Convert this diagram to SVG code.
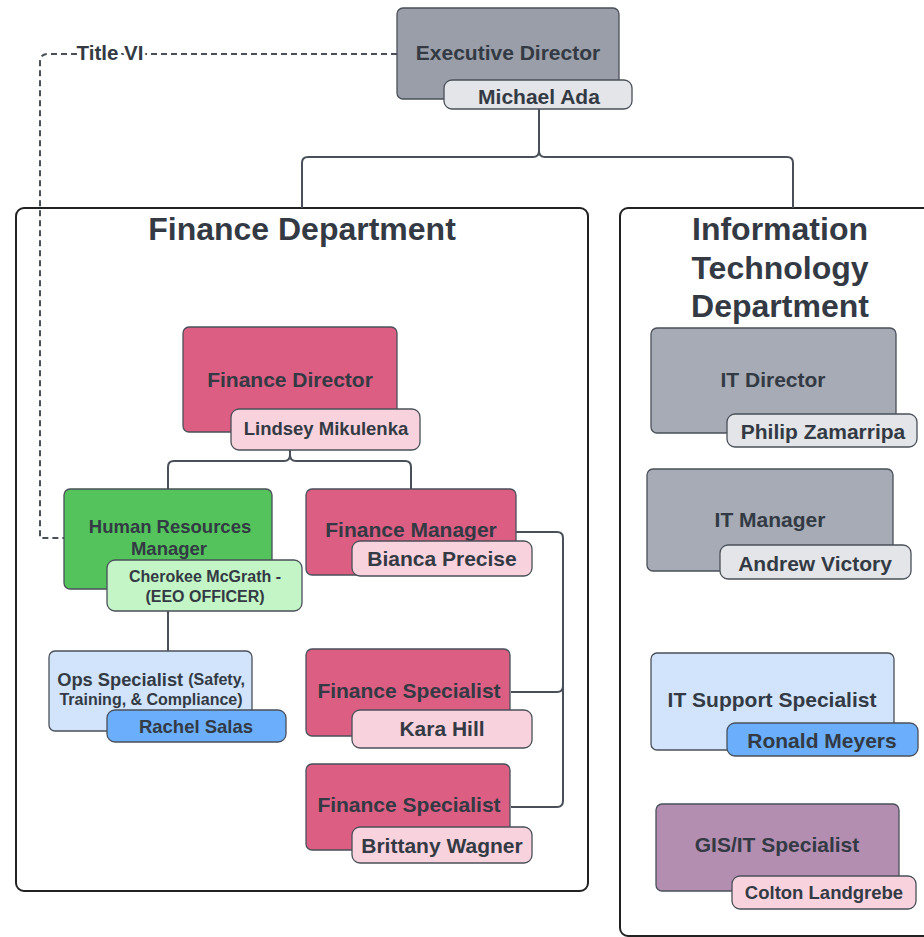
<svg xmlns="http://www.w3.org/2000/svg" width="924" height="937" viewBox="0 0 924 937">
<style>
text{font-family:"Liberation Sans",Arial,sans-serif;font-weight:bold;fill:#333a44;text-anchor:middle;dominant-baseline:central}
.box{stroke:#4a505a;stroke-width:1.3}
.dept{fill:#fff;stroke:#222;stroke-width:2}
.conn{fill:none;stroke:#4a505a;stroke-width:2}
.dash{fill:none;stroke:#4a505a;stroke-width:2;stroke-dasharray:6 4}
.exec{fill:#9a9ea8}.gray{fill:#a6abb5}.lgray{fill:#e3e5e8}
.pink{fill:#dc5e82}.lpink{fill:#f8d2dd}
.green{fill:#54c35c}.lgreen{fill:#c3f5c6}
.lblue{fill:#d1e4fb}.blue{fill:#6aaefc}.purple{fill:#b38eb0}
.t21{font-size:21px}.t18{font-size:18.5px}.t16{font-size:16px}.t32{font-size:32px}
</style>
<rect width="924" height="937" fill="#fff"/>
<g id="finance-dept"><rect class="dept" x="16" y="208" width="572" height="683" rx="8"/><text class="t32" x="302" y="229">Finance Department</text></g>
<g id="it-dept"><rect class="dept" x="620" y="208" width="320" height="728" rx="8"/><text class="t32" x="780" y="229">Information</text><text class="t32" x="780" y="268">Technology</text><text class="t32" x="780" y="306">Department</text></g>
<g id="connectors">
<path class="conn" d="M539 109V151q0 6-6 6H308q-6 0-6 6V208M539 151q0 6 6 6H787q6 0 6 6V208"/>
<path class="conn" d="M290 450V455q0 6-6 6H174q-6 0-6 6V489M290 455q0 6 6 6H405q6 0 6 6V489"/>
<path class="conn" d="M168 611V651"/>
<path class="conn" d="M516 532H557q6 0 6 6V801q0 6-6 6H511M563 686q0 6-6 6H511"/>
<path class="dash" d="M397 54H48q-8 0-8 8V538H64"/>
<text x="110" y="52" style="font-size:20.5px;paint-order:stroke;stroke:#fff;stroke-width:6">Title VI</text>
</g>
<g id="executive-director"><rect class="box exec" x="397" y="8" width="222" height="91" rx="6"/><text class="t21" x="508" y="52">Executive Director</text><rect class="box lgray" x="444" y="80" width="188" height="29" rx="8"/><text class="t21" x="539" y="96">Michael Ada</text></g>
<g id="finance-director"><rect class="box pink" x="183" y="327" width="214" height="105" rx="6"/><text class="t21" x="290" y="379">Finance Director</text><rect class="box lpink" x="231" y="409" width="189" height="41" rx="8"/><text class="t18" x="326" y="428">Lindsey Mikulenka</text></g>
<g id="hr-manager"><rect class="box green" x="64" y="489" width="208" height="100" rx="6"/><text class="t18" x="170" y="526">Human Resources</text><text class="t18" x="169" y="548">Manager</text><rect class="box lgreen" x="107" y="560" width="195" height="51" rx="8"/><text class="t16" x="205" y="576">Cherokee McGrath -</text><text class="t16" x="205" y="596">(EEO OFFICER)</text></g>
<g id="ops-specialist"><rect class="box lblue" x="49" y="651" width="203" height="80" rx="6"/><text x="151" y="679"><tspan style="font-size:18.3px">Ops Specialist </tspan><tspan class="t16">(Safety,</tspan></text><text class="t16" x="151" y="699">Training, &amp; Compliance)</text><rect class="box blue" x="107" y="710" width="179" height="32" rx="8"/><text class="t18" x="196" y="726">Rachel Salas</text></g>
<g id="finance-manager"><rect class="box pink" x="306" y="489" width="210" height="86" rx="6"/><text class="t21" x="411" y="529">Finance Manager</text><rect class="box lpink" x="352" y="541" width="180" height="35" rx="8"/><text class="t21" x="442" y="558">Bianca Precise</text></g>
<g id="finance-specialist-1"><rect class="box pink" x="306" y="649" width="204" height="87" rx="6"/><text class="t21" x="409" y="690">Finance Specialist</text><rect class="box lpink" x="352" y="710" width="180" height="38" rx="8"/><text class="t21" x="442" y="728">Kara Hill</text></g>
<g id="finance-specialist-2"><rect class="box pink" x="306" y="764" width="204" height="86" rx="6"/><text class="t21" x="409" y="804">Finance Specialist</text><rect class="box lpink" x="352" y="827" width="180" height="36" rx="8"/><text class="t21" x="442" y="845">Brittany Wagner</text></g>
<g id="it-director"><rect class="box gray" x="651" y="328" width="245" height="105" rx="6"/><text class="t21" x="773" y="379">IT Director</text><rect class="box lgray" x="727" y="414" width="190" height="33" rx="8"/><text class="t21" x="823" y="431">Philip Zamarripa</text></g>
<g id="it-manager"><rect class="box gray" x="647" y="469" width="246" height="102" rx="6"/><text class="t21" x="770" y="519">IT Manager</text><rect class="box lgray" x="720" y="545" width="191" height="34" rx="8"/><text class="t21" x="815" y="563">Andrew Victory</text></g>
<g id="it-support"><rect class="box lblue" x="651" y="653" width="243" height="97" rx="6"/><text class="t21" x="772" y="699">IT Support Specialist</text><rect class="box blue" x="727" y="723" width="191" height="33" rx="8"/><text class="t21" x="822" y="740">Ronald Meyers</text></g>
<g id="gis-it"><rect class="box purple" x="656" y="804" width="243" height="87" rx="6"/><text class="t21" x="777" y="844">GIS/IT Specialist</text><rect class="box lpink" x="732" y="876" width="184" height="33" rx="8"/><text class="t18" x="824" y="892">Colton Landgrebe</text></g>
</svg>
